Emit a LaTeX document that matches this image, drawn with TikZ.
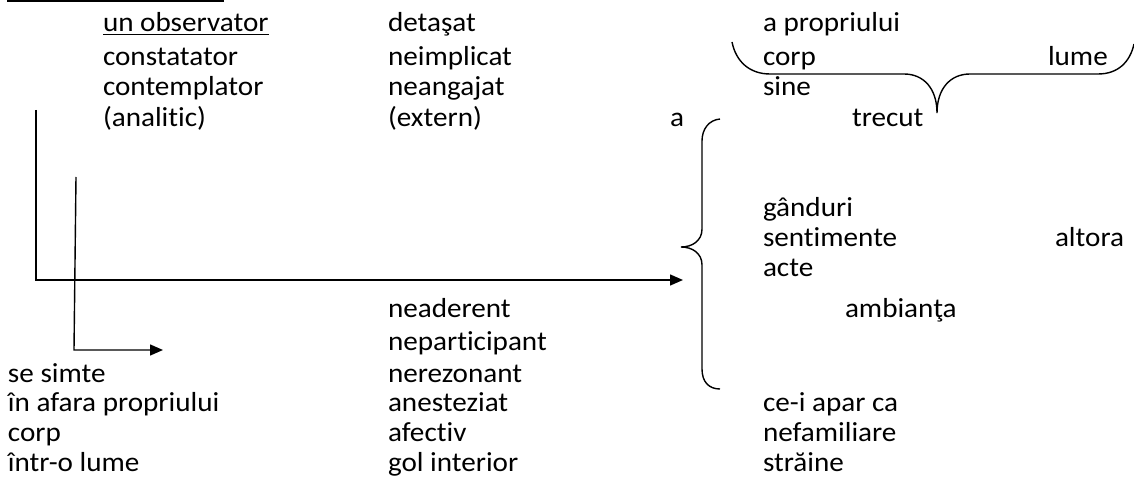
\documentclass[tikz,border=0pt]{standalone}
\usepackage{fontspec}
\setmainfont{Carlito}[FakeStretch=1.06,Ligatures=NoCommon]
\usetikzlibrary{arrows.meta}
\begin{document}
\begin{tikzpicture}[x=1pt,y=-1pt,
  txt/.style={anchor=base west,inner sep=0pt,outer sep=0pt,font=\fontsize{27.5}{31}\selectfont},
  ln/.style={line width=1.4pt,line cap=rect},
  arr/.style={line width=1.4pt,-{Triangle[length=13pt,width=11pt]}},
  brace/.style={line width=1.4pt}]
\useasboundingbox (0,0) rectangle (1134,502);
% column A
\node[txt] (obs) at (103,32) {un observator};
\node[txt] (cons) at (103,66) {constatator};
\node[txt] (cont) at (103,96) {contemplator};
\node[txt] (anal) at (103,127) {(analitic)};
% column B
\node[txt] (det) at (388,32) {detaşat};
\node[txt] (neim) at (388,66) {neimplicat};
\node[txt] (nean) at (388,96) {neangajat};
\node[txt] (ext) at (388,127) {(extern)};
\node[txt] (a) at (670,127) {a};
% column C top
\node[txt] (aprop) at (763,32) {a propriului};
\node[txt] (corp1) at (763,66) {corp};
\node[txt] (lume1) at (1048,66) {lume};
\node[txt] (sine) at (763,96) {sine};
\node[txt] (trec) at (852,127) {trecut};
\node[txt] (gand) at (763,217) {gânduri};
\node[txt] (sent) at (763,247) {sentimente};
\node[txt] (alt) at (1055,247) {altora};
\node[txt] (acte) at (763,277) {acte};
\node[txt] (amb) at (845,318) {ambianţa};
% column B bottom
\node[txt] (nead) at (388,318) {neaderent};
\node[txt] (nepa) at (388,350) {neparticipant};
\node[txt] (nere) at (388,382) {nerezonant};
\node[txt] (anes) at (388,411) {anesteziat};
\node[txt] (afec) at (388,441) {afectiv};
\node[txt] (gol) at (388,471) {gol interior};
% column A bottom
\node[txt] (sesi) at (8,382) {se simte};
\node[txt] (afar) at (8,411) {în afara propriului};
\node[txt] (corp2) at (8,441) {corp};
\node[txt] (intr) at (8,471) {într-o lume};
% column C bottom
\node[txt] (apar) at (763,411) {ce-i apar ca};
\node[txt] (nefa) at (763,441) {nefamiliare};
\node[txt] (stra) at (763,471) {străine};
% underline
\draw[line width=1.3pt] ([yshift=-2.5pt]obs.base west) -- ([yshift=-2.5pt]obs.base east);
% top rule
\coordinate (t1) at (8,1);
\coordinate (t2) at (223,1);
\draw[ln] (t1) -- (t2);
% big connector
\coordinate (v1) at (36,110);
\coordinate (c1) at (36,280);
\coordinate (e1) at (683,280);
\draw[arr] (v1) -- (c1) -- (e1);
% small connector
\coordinate (v2) at (76,177);
\coordinate (c2) at (74,350);
\coordinate (e2) at (163,350);
\draw[arr] (v2) -- (c2) -- (e2);
% left brace
\draw[brace] (720,119) .. controls (709,120) and (702,129) .. (702,141) -- (702,229)
  .. controls (702,241) and (692,247) .. (681,247)
  .. controls (692,247) and (702,253) .. (702,265) -- (702,369)
  .. controls (702,382) and (709,389) .. (720,389);
% top brace
\draw[brace] (732,42) .. controls (736,62) and (750,74) .. (770,74) -- (904,74)
  .. controls (924,74) and (937,89) .. (937,113)
  .. controls (937,89) and (950,74) .. (970,74) -- (1098,74)
  .. controls (1118,74) and (1130,62) .. (1134,44);
\end{tikzpicture}
\end{document}
